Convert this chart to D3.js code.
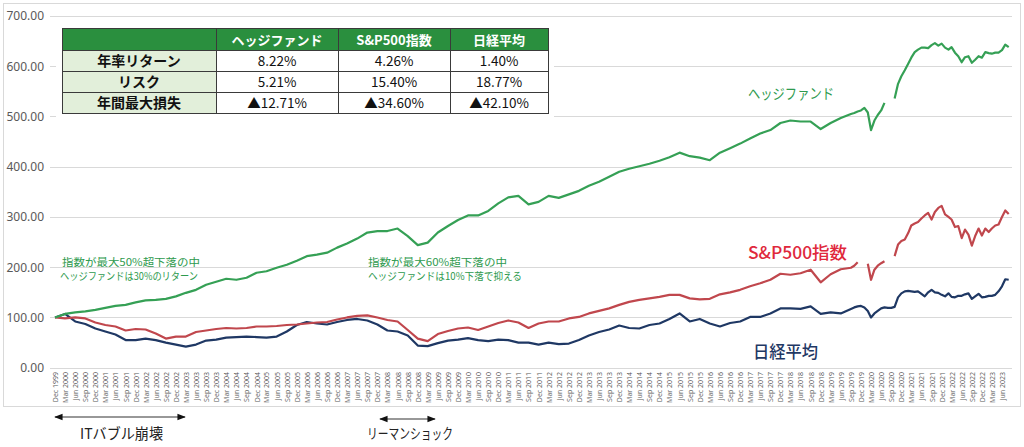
<!DOCTYPE html>
<html><head><meta charset="utf-8">
<script src="https://cdn.jsdelivr.net/npm/d3@7"></script>
<style>
body{margin:0;background:#fff;}
svg{display:block;}
</style></head><body>
<svg id="c" width="1024" height="447"></svg>
<script>
// ---------------- DATA ----------------
const dates = ("1999-12 " +
 "2000-03 2000-06 2000-09 2000-12 2001-03 2001-06 2001-09 2001-12 2002-03 2002-06 2002-09 2002-12 " +
 "2003-03 2003-06 2003-09 2003-12 2004-03 2004-06 2004-09 2004-12 2005-03 2005-06 2005-09 2005-12 " +
 "2006-03 2006-06 2006-09 2006-12 2007-03 2007-06 2007-09 2007-12 2008-03 2008-06 2008-09 2008-12 " +
 "2009-03 2009-06 2009-09 2009-12 2010-03 2010-06 2010-09 2010-12 2011-03 2011-06 2011-09 2011-12 " +
 "2012-03 2012-06 2012-09 2012-12 2013-03 2013-06 2013-09 2013-12 2014-03 2014-06 2014-09 2014-12 " +
 "2015-03 2015-06 2015-09 2015-12 2016-03 2016-06 2016-09 2016-12 2017-03 2017-06 2017-09 2017-12 " +
 "2018-03 2018-06 2018-09 2018-12 2019-03 2019-06 2019-09 " +
 "2019-10 2019-11 2019-12 " +
 "2020-01 2020-02 2020-03 2020-04 2020-05 2020-06 2020-07 2020-08 2020-09 2020-10 2020-11 2020-12 " +
 "2021-01 2021-02 2021-03 2021-04 2021-05 2021-06 2021-07 2021-08 2021-09 2021-10 2021-11 2021-12 " +
 "2022-01 2022-02 2022-03 2022-04 2022-05 2022-06 2022-07 2022-08 2022-09 2022-10 2022-11 2022-12 " +
 "2023-01 2023-02 2023-03 2023-04 2023-05 2023-06 2023-07 2023-08").split(" ");

const hedge = [
 100,107,110,112,115,119,123,125,130,134,135,137,142,
 149,155,165,171,177,175,179,189,192,199,205,213,
 222,225,229,239,247,257,269,272,272,277,262,244,
 249,269,282,294,303,303,312,327,339,342,325,330,
 342,338,345,352,362,370,380,390,396,401,406,412,
 419,428,421,418,413,428,437,446,456,466,473,487,
 492,490,490,475,487,497,505,
 507,510,512,
 517,508,473,492,503,512,527,null,null,536,565,580,
 592,605,617,628,633,637,637,636,642,646,641,645,
 637,633,638,627,620,608,618,620,607,613,620,617,
 628,626,625,627,627,632,643,638];

const sp500 = [
 100,98,100,98,90,85,82,74,77,76,68,58,62,
 62,71,74,77,79,78,79,82,82,83,85,86,
 88,90,91,96,100,103,104,100,95,92,75,58,
 53,67,73,78,80,75,82,89,94,90,79,88,
 92,92,98,101,108,113,118,125,131,135,138,141,
 145,145,138,136,137,146,150,155,162,168,175,187,
 185,188,195,170,186,196,199,
 203,210,null,
 null,207,175,195,203,208,212,null,null,222,245,252,
 255,268,283,287,290,297,303,308,295,310,318,322,
 305,300,295,280,282,258,275,265,243,262,277,263,
 277,270,277,283,285,300,313,306];

const nikkei = [
 100,107,92,87,78,72,66,55,55,58,55,50,46,
 42,46,54,56,60,61,62,61,60,62,72,85,
 91,88,86,91,95,97,94,86,74,72,64,44,
 43,49,54,56,59,55,53,56,55,50,50,46,
 50,47,48,55,64,71,76,84,79,78,85,88,
 97,108,92,97,88,82,89,92,101,101,108,118,
 118,117,122,107,110,108,117,
 120,122,123,
 120,113,100,108,113,118,120,119,119,121,140,148,
 152,153,152,151,152,147,142,150,155,150,149,145,
 142,148,141,140,143,143,146,148,137,142,147,140,
 141,143,143,145,152,162,176,175];

const yTicks = [0,100,200,300,400,500,600,700];
const tickStart = "1999-12", tickEnd = "2023-06";

const tableHeader = ["", "ヘッジファンド", "S&P500指数", "日経平均"];
const rowNames = ["年率リターン", "リスク", "年間最大損失"];
const annualReturn = ["8.22%", "4.26%", "1.40%"];
const risk = ["5.21%", "15.40%", "18.77%"];
const maxLoss = ["▲12.71%", "▲34.60%", "▲42.10%"];

const seriesNames = ["ヘッジファンド", "S&P500指数", "日経平均"];
const noteLeft = ["指数が最大50%超下落の中", "ヘッジファンドは30%のリターン"];
const noteRight = ["指数が最大60%超下落の中", "ヘッジファンドは10%下落で抑える"];
const periodLabels = ["ITバブル崩壊", "リーマンショック"];

// ---------------- CHART ----------------
const svg = d3.select("#c");
const JP = "'Noto Sans CJK JP', 'Noto Sans', sans-serif";
const parse = d3.timeParse("%Y-%m");
const x = d3.scaleTime().domain([parse("1999-12"), parse("2023-08")]).range([55, 1008.7]);
const y = d3.scaleLinear().domain([0, 700]).range([367.7, 16]);

const colors = {hedge: "#35a055", sp: "#c0474d", nk: "#1f3864"};

// outer frame
svg.append("rect").attr("x", 3.5).attr("y", 3.5).attr("width", 1017).attr("height", 403)
  .attr("fill", "#fff").attr("stroke", "#d9d9d9");

// gridlines
svg.append("g").selectAll("line").data(yTicks).join("line")
  .attr("x1", 50).attr("x2", 1012)
  .attr("y1", d => Math.round(y(d)) + 0.5).attr("y2", d => Math.round(y(d)) + 0.5)
  .attr("stroke", "#d9d9d9").attr("stroke-width", 1);

// y axis labels
const yAxis = d3.axisLeft(y).tickValues(yTicks).tickFormat(d3.format(".2f")).tickSize(0).tickPadding(0);
const gy = svg.append("g").attr("transform", "translate(44,0)").call(yAxis);
gy.select(".domain").remove();
gy.selectAll("text").attr("font-family", "'Noto Sans', sans-serif").attr("font-size", 12).attr("fill", "#595959");

// x axis labels (every quarter, Dec 1999 .. Jun 2023)
const t0 = parse(tickStart), t1 = parse(tickEnd);
const nQ = Math.round(d3.timeMonth.count(t0, t1) / 3);
const tickVals = d3.range(nQ + 1).map(i => d3.timeMonth.offset(t0, 3 * i));
const xAxis = d3.axisBottom(x).tickValues(tickVals).tickFormat(d3.timeFormat("%b %Y")).tickSize(0);
const gx = svg.append("g").attr("transform", "translate(0,372)").call(xAxis);
gx.select(".domain").remove();
gx.selectAll("text")
  .attr("font-family", "'Open Sans', sans-serif").attr("font-size", 7).attr("fill", "#595959")
  .attr("text-anchor", "end").attr("transform", "rotate(-90)")
  .attr("x", 0).attr("y", 0).attr("dy", "0.35em");

// lines
const line = d3.line().defined(d => d.v != null).x(d => x(d.t)).y(d => y(d.v));
const mk = arr => dates.map((s, i) => ({t: parse(s), v: arr[i]}));
[[nikkei, colors.nk], [sp500, colors.sp], [hedge, colors.hedge]].forEach(([arr, c]) => {
  svg.append("path").datum(mk(arr)).attr("d", line)
    .attr("fill", "none").attr("stroke", c).attr("stroke-width", 2.2)
    .attr("stroke-linejoin", "round");
});

// table
const colX = [62, 216, 338, 450, 548];
const rowY = [28, 50, 71, 92, 113];
svg.append("rect").attr("x", 56).attr("y", 22).attr("width", 498).attr("height", 97).attr("fill", "#fff");
const tg = svg.append("g");
const rowsData = [tableHeader, [rowNames[0], ...annualReturn], [rowNames[1], ...risk], [rowNames[2], ...maxLoss]];
rowsData.forEach((row, r) => {
  row.forEach((txt, c) => {
    const x0 = colX[c], x1 = colX[c + 1], y0 = rowY[r], y1 = rowY[r + 1];
    const fill = r === 0 ? "#2a8f3e" : (c === 0 ? "#e2efda" : "#ffffff");
    tg.append("rect").attr("x", x0 + 0.5).attr("y", y0 + 0.5).attr("width", x1 - x0).attr("height", y1 - y0)
      .attr("fill", fill).attr("stroke", "#3a3a3a").attr("stroke-width", 1);
    tg.append("text").attr("x", (x0 + x1) / 2).attr("y", (y0 + y1) / 2 + 1).attr("dy", "0.35em")
      .attr("text-anchor", "middle").attr("font-family", JP)
      .attr("font-size", r === 0 ? 13 : (c === 0 ? 14 : 13.5))
      .attr("font-weight", (r === 0 || c === 0) ? "bold" : "normal")
      .attr("fill", r === 0 ? "#fff" : "#111").text(txt);
  });
});

// text helper
const lbl = (t, x0, y0, fs, w, col, wt) => svg.append("text").attr("x", x0).attr("y", y0)
  .attr("font-family", JP).attr("font-size", fs).attr("font-weight", wt || "normal")
  .attr("fill", col).attr("textLength", w).attr("lengthAdjust", "spacingAndGlyphs").text(t);

// series labels
lbl(seriesNames[0], 748, 99, 14.5, 86, "#2e9a4e");
lbl(seriesNames[1], 748, 259, 17, 99, "#e0283c", 500);
lbl(seriesNames[2], 753, 358, 17, 65, "#1f3864", 500);

// annotations
lbl(noteLeft[0], 62, 266, 10.5, 138, "#2e9a4e");
lbl(noteLeft[1], 60, 280, 10.5, 138, "#2e9a4e");
lbl(noteRight[0], 368, 266, 10.5, 139, "#2e9a4e");
lbl(noteRight[1], 368, 280, 10.5, 154, "#2e9a4e");

// bottom period arrows
const defs = svg.append("defs");
defs.append("marker").attr("id", "ah").attr("viewBox", "0 0 10 10").attr("refX", 9).attr("refY", 5)
  .attr("markerWidth", 7).attr("markerHeight", 7).attr("orient", "auto-start-reverse")
  .append("path").attr("d", "M0,1 L10,5 L0,9 z").attr("fill", "#111");
[[55, 185, 417, 80, 83, periodLabels[0]], [380, 435, 419, 367, 86, periodLabels[1]]].forEach(([a, b, yy, lx, w, t]) => {
  svg.append("line").attr("x1", a).attr("x2", b).attr("y1", yy).attr("y2", yy)
    .attr("stroke", "#333").attr("stroke-width", 1.2)
    .attr("marker-start", "url(#ah)").attr("marker-end", "url(#ah)");
  lbl(t, lx, 439, 14.5, w, "#222");
});
</script>
</body></html>
